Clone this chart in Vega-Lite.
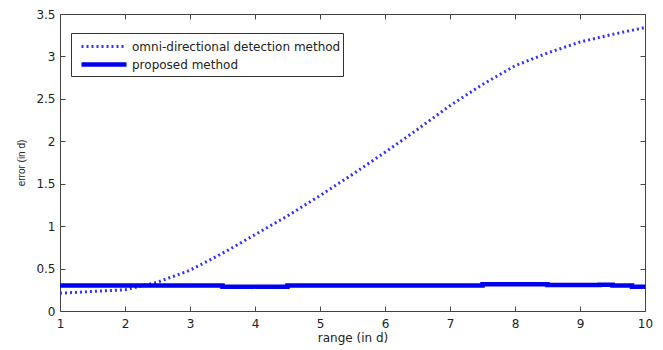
{
  "$schema": "https://vega.github.io/schema/vega-lite/v6.json",
  "width": 585,
  "height": 297,
  "autosize": {"type": "none"},
  "padding": {"left": 60, "top": 14, "right": 18, "bottom": 39},
  "background": "white",
  "config": {
    "view": {"stroke": "#444", "strokeWidth": 1},
    "font": "DejaVu Sans",
    "axis": {"labelFont": "DejaVu Sans", "titleFont": "DejaVu Sans", "labelFontSize": 12, "titleFontSize": 12, "titleFontWeight": "normal", "labelColor": "#222", "titleColor": "#222", "domain": false, "grid": false, "tickColor": "#444", "tickSize": 5, "tickWidth": 1, "offset": -5}
  },
  "data": {"values": [
    {"x": 1, "y": 0.21, "s": "omni-directional detection method"},
    {"x": 1.5, "y": 0.23, "s": "omni-directional detection method"},
    {"x": 2, "y": 0.25, "s": "omni-directional detection method"},
    {"x": 2.5, "y": 0.34, "s": "omni-directional detection method"},
    {"x": 3, "y": 0.48, "s": "omni-directional detection method"},
    {"x": 3.5, "y": 0.68, "s": "omni-directional detection method"},
    {"x": 4, "y": 0.9, "s": "omni-directional detection method"},
    {"x": 4.5, "y": 1.12, "s": "omni-directional detection method"},
    {"x": 5, "y": 1.36, "s": "omni-directional detection method"},
    {"x": 5.5, "y": 1.61, "s": "omni-directional detection method"},
    {"x": 6, "y": 1.87, "s": "omni-directional detection method"},
    {"x": 6.5, "y": 2.14, "s": "omni-directional detection method"},
    {"x": 7, "y": 2.42, "s": "omni-directional detection method"},
    {"x": 7.5, "y": 2.67, "s": "omni-directional detection method"},
    {"x": 8, "y": 2.89, "s": "omni-directional detection method"},
    {"x": 8.5, "y": 3.04, "s": "omni-directional detection method"},
    {"x": 9, "y": 3.17, "s": "omni-directional detection method"},
    {"x": 9.5, "y": 3.26, "s": "omni-directional detection method"},
    {"x": 10, "y": 3.34, "s": "omni-directional detection method"},
    {"x": 1, "y": 0.3, "s": "proposed method"},
    {"x": 3.5, "y": 0.3, "s": "proposed method"},
    {"x": 3.5, "y": 0.285, "s": "proposed method"},
    {"x": 4.5, "y": 0.285, "s": "proposed method"},
    {"x": 4.5, "y": 0.3, "s": "proposed method"},
    {"x": 7.5, "y": 0.3, "s": "proposed method"},
    {"x": 7.5, "y": 0.315, "s": "proposed method"},
    {"x": 8.5, "y": 0.315, "s": "proposed method"},
    {"x": 8.5, "y": 0.305, "s": "proposed method"},
    {"x": 9.3, "y": 0.305, "s": "proposed method"},
    {"x": 9.3, "y": 0.31, "s": "proposed method"},
    {"x": 9.5, "y": 0.31, "s": "proposed method"},
    {"x": 9.5, "y": 0.3, "s": "proposed method"},
    {"x": 9.8, "y": 0.3, "s": "proposed method"},
    {"x": 9.8, "y": 0.285, "s": "proposed method"},
    {"x": 10, "y": 0.285, "s": "proposed method"}
  ]},
  "layer": [
    {
      "mark": {"type": "line", "clip": true},
      "encoding": {
        "x": {"field": "x", "type": "quantitative", "scale": {"domain": [1, 10], "nice": false, "zero": false}, "axis": {"title": "range (in d)", "values": [1,2,3,4,5,6,7,8,9,10], "labelPadding": 7, "titlePadding": 3, "labelFlush": false}},
        "y": {"field": "y", "type": "quantitative", "scale": {"domain": [0, 3.5], "nice": false}, "axis": {"title": "error (in d)", "titleFont": "Liberation Sans", "titleFontSize": 10, "format": "~g", "values": [0,0.5,1,1.5,2,2.5,3,3.5], "labelPadding": 5, "titlePadding": 9, "labelFlush": false}},
        "detail": {"field": "s"},
        "color": {"field": "s", "type": "nominal", "scale": {"domain": ["omni-directional detection method", "proposed method"], "range": ["#3333ff", "#0000f0"]}, "legend": {"title": null, "orient": "none", "legendX": 11, "legendY": 19, "strokeColor": "#333", "fillColor": "white", "padding": 2.5, "symbolType": "M-2.37,0H2.37", "symbolSize": 361, "symbolOffset": 18.5, "labelOffset": 16, "labelFont": "DejaVu Sans", "labelFontSize": 12, "labelColor": "#222", "rowPadding": 0, "labelLimit": 400}},
        "strokeDash": {"field": "s", "type": "nominal", "scale": {"domain": ["omni-directional detection method", "proposed method"], "range": [[2, 3], [1, 0]]}, "legend": null},
        "strokeWidth": {"field": "s", "type": "nominal", "scale": {"domain": ["omni-directional detection method", "proposed method"], "range": [3, 4.5]}, "legend": null}
      }
    },
    {
      "mark": {"type": "point", "opacity": 0},
      "encoding": {
        "x": {"field": "x", "type": "quantitative", "scale": {"domain": [1, 10], "nice": false, "zero": false}, "axis": {"orient": "top", "title": null, "labels": false, "values": [1,2,3,4,5,6,7,8,9,10]}},
        "y": {"field": "y", "type": "quantitative", "scale": {"domain": [0, 3.5], "nice": false}, "axis": {"orient": "right", "title": null, "labels": false, "values": [0,0.5,1,1.5,2,2.5,3,3.5]}}
      }
    }
  ],
  "resolve": {"axis": {"x": "independent", "y": "independent"}}
}
